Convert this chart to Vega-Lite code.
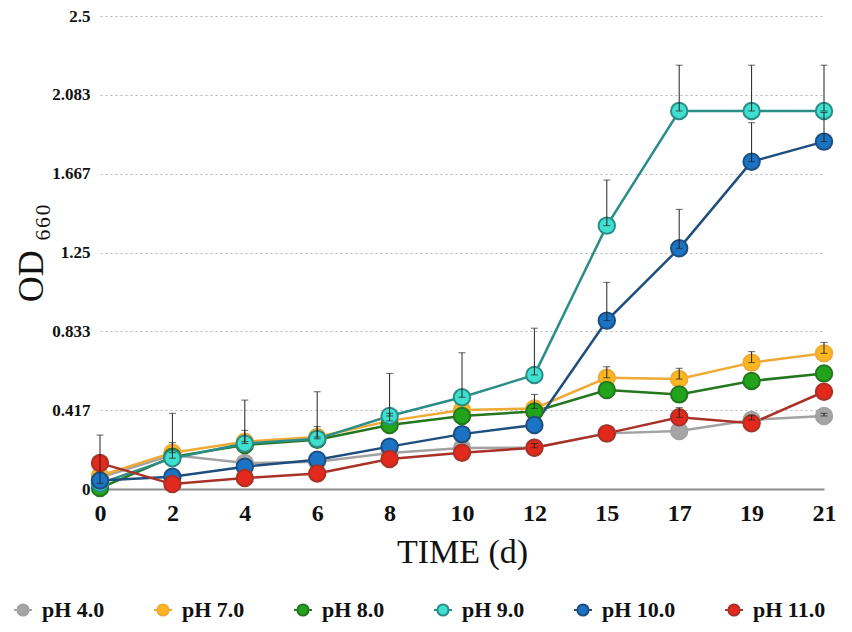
{
  "$schema": "https://vega.github.io/schema/vega-lite/v6.json",
  "width": 724,
  "height": 473,
  "autosize": {"type": "none"},
  "padding": {"left": 100, "top": 16, "right": 28, "bottom": 143},
  "background": "white",
  "config": {
    "font": "Liberation Serif",
    "view": {"stroke": null},
    "axis": {"labelFont": "Liberation Serif", "titleFont": "Liberation Serif", "labelColor": "#111", "titleColor": "#111"},
    "style": {"guide-label": {"font": "Liberation Serif"}, "guide-title": {"font": "Liberation Serif"}},
    "legend": {
      "labelFont": "Liberation Serif",
      "titleFont": "Liberation Serif",
      "orient": "none",
      "legendX": -88,
      "legendY": 583,
      "direction": "horizontal",
      "columns": 6,
      "columnPadding": 45,
      "labelFontSize": 22,
      "labelFontWeight": "bold",
      "labelColor": "#111",
      "labelOffset": 8,
      "labelLimit": 300,
      "symbolSize": 324,
      "symbolStrokeWidth": 2,
      "symbolType": "M-1,0L-0.62,0M0.62,0L1,0M0.62,0A0.62,0.62,0,1,1,-0.62,0A0.62,0.62,0,1,1,0.62,0Z"
    }
  },
  "data": {
    "values": [
      {"day": 0, "ph": "pH 4.0", "od": 0.06, "hi": null},
      {"day": 2, "ph": "pH 4.0", "od": 0.18, "hi": null},
      {"day": 4, "ph": "pH 4.0", "od": 0.137, "hi": null},
      {"day": 6, "ph": "pH 4.0", "od": 0.144, "hi": null},
      {"day": 8, "ph": "pH 4.0", "od": 0.19, "hi": null},
      {"day": 10, "ph": "pH 4.0", "od": 0.217, "hi": null},
      {"day": 12, "ph": "pH 4.0", "od": 0.218, "hi": 0.24},
      {"day": 15, "ph": "pH 4.0", "od": 0.294, "hi": null},
      {"day": 17, "ph": "pH 4.0", "od": 0.307, "hi": null},
      {"day": 19, "ph": "pH 4.0", "od": 0.365, "hi": 0.39},
      {"day": 21, "ph": "pH 4.0", "od": 0.386, "hi": 0.4},
      {"day": 0, "ph": "pH 7.0", "od": 0.07, "hi": null},
      {"day": 2, "ph": "pH 7.0", "od": 0.192, "hi": 0.245},
      {"day": 4, "ph": "pH 7.0", "od": 0.25, "hi": 0.31},
      {"day": 6, "ph": "pH 7.0", "od": 0.275, "hi": 0.33},
      {"day": 8, "ph": "pH 7.0", "od": 0.36, "hi": 0.4},
      {"day": 10, "ph": "pH 7.0", "od": 0.418, "hi": null},
      {"day": 12, "ph": "pH 7.0", "od": 0.426, "hi": 0.5},
      {"day": 15, "ph": "pH 7.0", "od": 0.588, "hi": 0.646},
      {"day": 17, "ph": "pH 7.0", "od": 0.581, "hi": 0.638},
      {"day": 19, "ph": "pH 7.0", "od": 0.668, "hi": 0.726},
      {"day": 21, "ph": "pH 7.0", "od": 0.717, "hi": 0.775},
      {"day": 0, "ph": "pH 8.0", "od": 0.005, "hi": null},
      {"day": 2, "ph": "pH 8.0", "od": 0.17, "hi": null},
      {"day": 4, "ph": "pH 8.0", "od": 0.233, "hi": null},
      {"day": 6, "ph": "pH 8.0", "od": 0.26, "hi": null},
      {"day": 8, "ph": "pH 8.0", "od": 0.338, "hi": null},
      {"day": 10, "ph": "pH 8.0", "od": 0.386, "hi": null},
      {"day": 12, "ph": "pH 8.0", "od": 0.41, "hi": null},
      {"day": 15, "ph": "pH 8.0", "od": 0.523, "hi": null},
      {"day": 17, "ph": "pH 8.0", "od": 0.5, "hi": null},
      {"day": 19, "ph": "pH 8.0", "od": 0.571, "hi": null},
      {"day": 21, "ph": "pH 8.0", "od": 0.611, "hi": null},
      {"day": 0, "ph": "pH 9.0", "od": 0.03, "hi": 0.285},
      {"day": 2, "ph": "pH 9.0", "od": 0.163, "hi": 0.4},
      {"day": 4, "ph": "pH 9.0", "od": 0.24, "hi": 0.47},
      {"day": 6, "ph": "pH 9.0", "od": 0.265, "hi": 0.514},
      {"day": 8, "ph": "pH 9.0", "od": 0.386, "hi": 0.611},
      {"day": 10, "ph": "pH 9.0", "od": 0.485, "hi": 0.72},
      {"day": 12, "ph": "pH 9.0", "od": 0.603, "hi": 0.85},
      {"day": 15, "ph": "pH 9.0", "od": 1.392, "hi": 1.633},
      {"day": 17, "ph": "pH 9.0", "od": 1.998, "hi": 2.24},
      {"day": 19, "ph": "pH 9.0", "od": 1.998, "hi": 2.24},
      {"day": 21, "ph": "pH 9.0", "od": 1.998, "hi": 2.24},
      {"day": 0, "ph": "pH 10.0", "od": 0.045, "hi": null},
      {"day": 2, "ph": "pH 10.0", "od": 0.065, "hi": null},
      {"day": 4, "ph": "pH 10.0", "od": 0.118, "hi": null},
      {"day": 6, "ph": "pH 10.0", "od": 0.155, "hi": null},
      {"day": 8, "ph": "pH 10.0", "od": 0.224, "hi": null},
      {"day": 10, "ph": "pH 10.0", "od": 0.29, "hi": null},
      {"day": 12, "ph": "pH 10.0", "od": 0.338, "hi": null},
      {"day": 15, "ph": "pH 10.0", "od": 0.89, "hi": 1.092},
      {"day": 17, "ph": "pH 10.0", "od": 1.272, "hi": 1.478},
      {"day": 19, "ph": "pH 10.0", "od": 1.73, "hi": 1.936},
      {"day": 21, "ph": "pH 10.0", "od": 1.836, "hi": 1.99},
      {"day": 0, "ph": "pH 11.0", "od": 0.137, "hi": null},
      {"day": 2, "ph": "pH 11.0", "od": 0.026, "hi": null},
      {"day": 4, "ph": "pH 11.0", "od": 0.058, "hi": null},
      {"day": 6, "ph": "pH 11.0", "od": 0.082, "hi": null},
      {"day": 8, "ph": "pH 11.0", "od": 0.159, "hi": null},
      {"day": 10, "ph": "pH 11.0", "od": 0.192, "hi": null},
      {"day": 12, "ph": "pH 11.0", "od": 0.218, "hi": null},
      {"day": 15, "ph": "pH 11.0", "od": 0.294, "hi": null},
      {"day": 17, "ph": "pH 11.0", "od": 0.379, "hi": 0.43},
      {"day": 19, "ph": "pH 11.0", "od": 0.347, "hi": null},
      {"day": 21, "ph": "pH 11.0", "od": 0.514, "hi": null}
    ]
  },
  "encoding": {
    "x": {
      "field": "day",
      "type": "ordinal",
      "scale": {"type": "point", "padding": 0},
      "axis": {
        "title": "TIME (d)",
        "titleFontSize": 34,
        "titleFontWeight": "normal",
        "titlePadding": 10,
        "labelFontSize": 24,
        "labelFontWeight": "bold",
        "labelAngle": 0,
        "labelPadding": 12,
        "ticks": false,
        "domainColor": "#8a8a8a",
        "domainWidth": 2,
        "grid": false
      }
    },
    "y": {
      "field": "od",
      "type": "quantitative",
      "scale": {"domain": [0, 2.5], "nice": false},
      "axis": {
        "title": "OD ₆₆₀",
        "titleFontSize": 36,
        "titleFontWeight": "normal",
        "titlePadding": 1,
        "values": [0, 0.416667, 0.833333, 1.25, 1.666667, 2.083333, 2.5],
        "format": ".3~f",
        "labelFontSize": 17,
        "labelFontWeight": "bold",
        "labelPadding": 10,
        "ticks": false,
        "domain": false,
        "grid": true,
        "gridColor": "#b5b5b5",
        "gridDash": [2, 3],
        "gridWidth": 1
      }
    }
  },
  "layer": [
    {
      "mark": {"type": "line", "strokeWidth": 2.5},
      "encoding": {
        "stroke": {
          "field": "ph",
          "type": "nominal",
          "title": null,
          "scale": {
            "domain": ["pH 4.0", "pH 7.0", "pH 8.0", "pH 9.0", "pH 10.0", "pH 11.0"],
            "range": ["#a2a2a2", "#eeaa35", "#24761f", "#2b8d88", "#1d4e7e", "#a93228"]
          }
        }
      }
    },
    {
      "mark": {"type": "point", "filled": true, "size": 270, "strokeWidth": 2, "opacity": 1},
      "encoding": {
        "fill": {
          "field": "ph",
          "type": "nominal",
          "title": null,
          "scale": {
            "domain": ["pH 4.0", "pH 7.0", "pH 8.0", "pH 9.0", "pH 10.0", "pH 11.0"],
            "range": ["#a5a5a5", "#fbb61f", "#22a31c", "#3fe0d0", "#1b73c4", "#e3281c"]
          }
        },
        "stroke": {
          "field": "ph",
          "type": "nominal",
          "title": null
        }
      }
    },
    {
      "transform": [{"filter": "datum.hi != null"}],
      "mark": {"type": "errorbar", "ticks": {"size": 7}, "color": "#222", "thickness": 1},
      "encoding": {
        "y": {"field": "od", "type": "quantitative"},
        "y2": {"field": "hi"}
      }
    }
  ]
}
